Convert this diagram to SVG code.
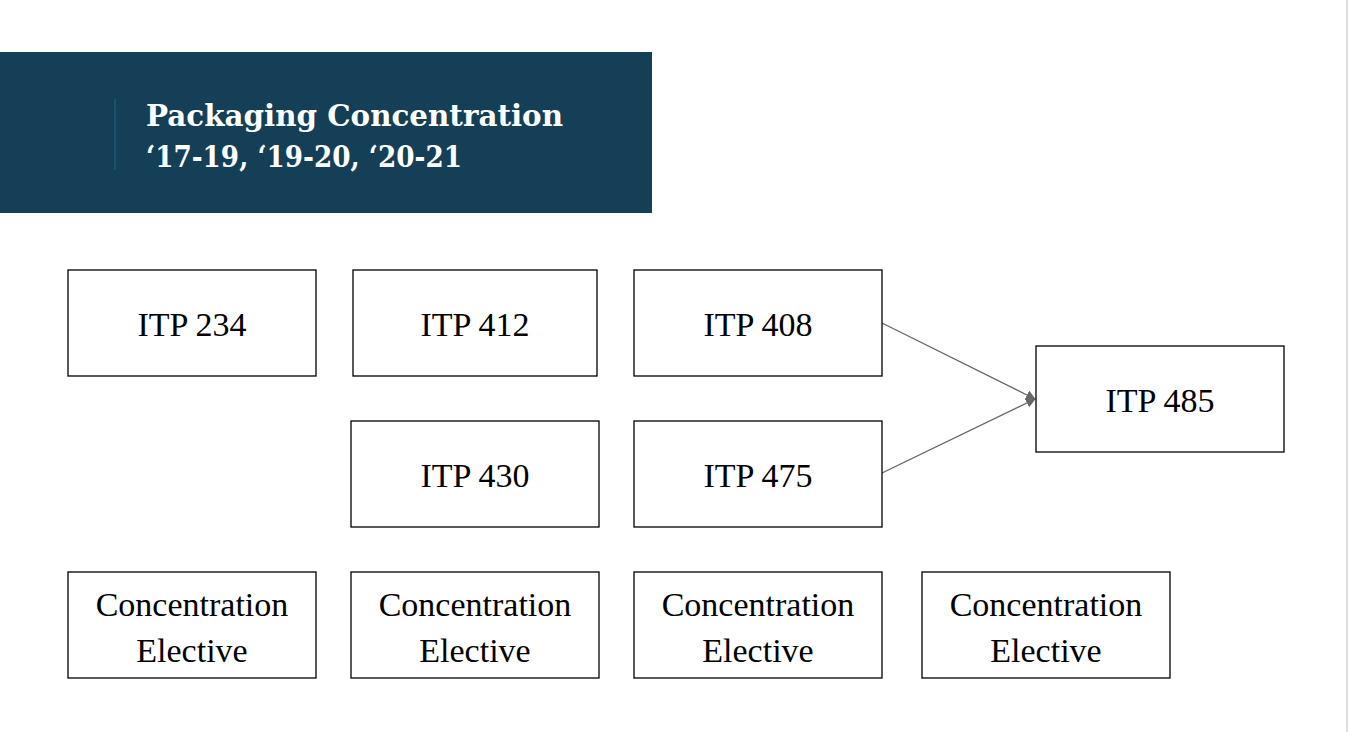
<svg xmlns="http://www.w3.org/2000/svg" width="1350" height="732" viewBox="0 0 1350 732">
<style>
.b{fill:#fff;stroke:#000;stroke-width:1.3}
.t{font-family:"Liberation Serif",serif;font-size:34px;fill:#000;text-anchor:middle}
.h{font-family:"DejaVu Serif",serif;font-weight:bold;font-size:30px;fill:#fff}
.c{stroke:#666;stroke-width:1.3;fill:none}
</style>
<defs><marker id="a" markerWidth="10" markerHeight="10" refX="9" refY="5" orient="auto" markerUnits="userSpaceOnUse" viewBox="0 0 10 10"><path d="M0,0 L10,5 L0,10 Z" fill="#666"/></marker></defs>
<rect width="1350" height="732" fill="#fff"/>
<line x1="1347" y1="0" x2="1347" y2="732" stroke="#ddd" stroke-width="2"/>
<g id="header">
<rect x="0" y="52" width="652" height="161" fill="#143f56"/>
<line x1="115" y1="99" x2="115" y2="170" stroke="#1e5a78" stroke-width="1.5"/>
<text class="h" x="146" y="126" textLength="417" lengthAdjust="spacingAndGlyphs">Packaging Concentration</text>
<text class="h" x="146" y="167" textLength="316" lengthAdjust="spacingAndGlyphs">‘17-19, ‘19-20, ‘20-21</text>
</g>
<g id="connectors">
<line class="c" x1="882" y1="323" x2="1035" y2="399" marker-end="url(#a)"/>
<line class="c" x1="882" y1="473" x2="1035" y2="399" marker-end="url(#a)"/>
</g>
<g id="itp234"><rect class="b" x="68" y="270" width="248" height="106"/><text class="t" x="192" y="336">ITP 234</text></g>
<g id="itp412"><rect class="b" x="353" y="270" width="244" height="106"/><text class="t" x="475" y="336">ITP 412</text></g>
<g id="itp408"><rect class="b" x="634" y="270" width="248" height="106"/><text class="t" x="758" y="336">ITP 408</text></g>
<g id="itp430"><rect class="b" x="351" y="421" width="248" height="106"/><text class="t" x="475" y="487">ITP 430</text></g>
<g id="itp475"><rect class="b" x="634" y="421" width="248" height="106"/><text class="t" x="758" y="487">ITP 475</text></g>
<g id="itp485"><rect class="b" x="1036" y="346" width="248" height="106"/><text class="t" x="1160" y="412">ITP 485</text></g>
<g id="elec1"><rect class="b" x="68" y="572" width="248" height="106"/><text class="t" x="192" y="616">Concentration</text><text class="t" x="192" y="662">Elective</text></g>
<g id="elec2"><rect class="b" x="351" y="572" width="248" height="106"/><text class="t" x="475" y="616">Concentration</text><text class="t" x="475" y="662">Elective</text></g>
<g id="elec3"><rect class="b" x="634" y="572" width="248" height="106"/><text class="t" x="758" y="616">Concentration</text><text class="t" x="758" y="662">Elective</text></g>
<g id="elec4"><rect class="b" x="922" y="572" width="248" height="106"/><text class="t" x="1046" y="616">Concentration</text><text class="t" x="1046" y="662">Elective</text></g>
</svg>
